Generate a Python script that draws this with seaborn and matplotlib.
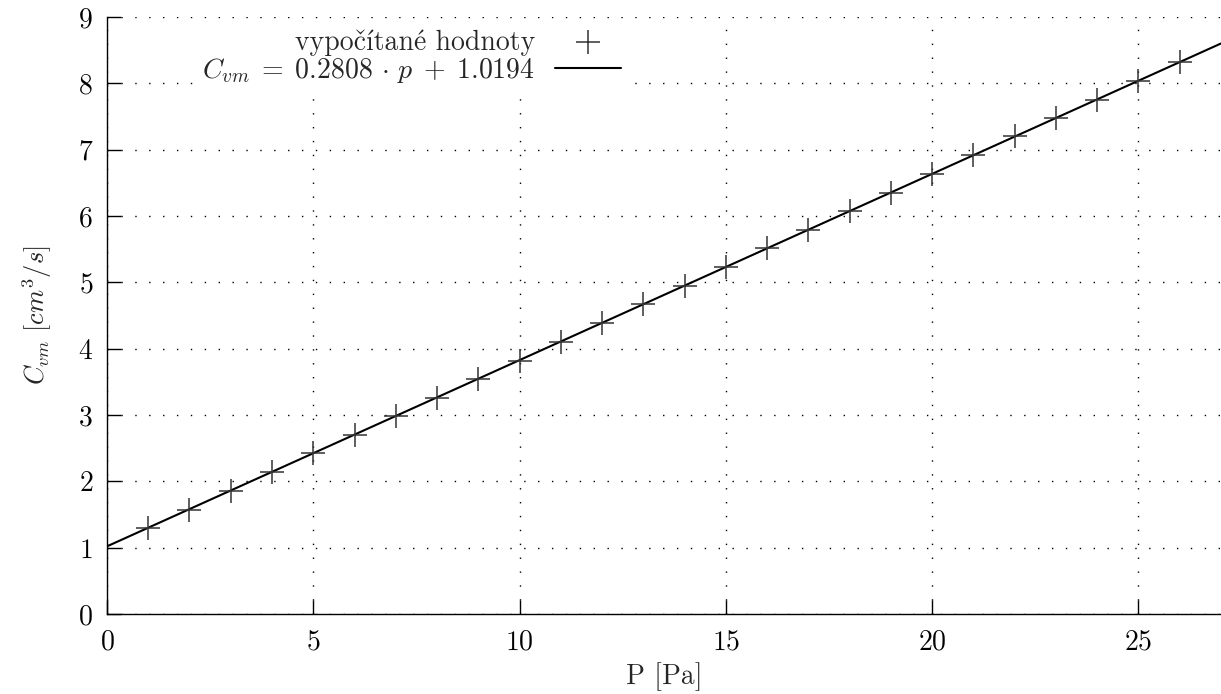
import numpy as np
import pandas as pd
import matplotlib
matplotlib.use('Agg')
import matplotlib.pyplot as plt
import seaborn as sns

# namerané hodnoty
p_vals = [1, 2, 3, 4, 5, 6, 7, 8, 9, 10, 11, 12, 13,
          14, 15, 16, 17, 18, 19, 20, 21, 22, 23, 24, 25, 26]
cvm_vals = [1.30, 1.57, 1.85, 2.14, 2.42, 2.70, 2.99, 3.26, 3.54, 3.82, 4.10, 4.38, 4.67,
            4.95, 5.23, 5.51, 5.79, 6.07, 6.35, 6.64, 6.92, 7.20, 7.47, 7.75, 8.04, 8.32]

# koeficienty regresie (z legendy)
slope = 0.2808
intercept = 1.0194
x_range = [0, 27]

x_ticks = [0, 5, 10, 15, 20, 25]
y_ticks = [0, 1, 2, 3, 4, 5, 6, 7, 8, 9]

sns.set_theme(style='ticks')
plt.rcParams['font.family'] = ['Latin Modern Roman', 'CMU Serif', 'cmr10', 'Liberation Serif']
plt.rcParams['mathtext.fontset'] = 'cm'
plt.rcParams['axes.unicode_minus'] = False
plt.rcParams['axes.formatter.use_mathtext'] = True

df = pd.DataFrame({'P': p_vals, 'Cvm': cvm_vals})
fit_x = np.linspace(x_range[0], x_range[1], 50)
fit_df = pd.DataFrame({'P': fit_x, 'Cvm': slope * fit_x + intercept})

fig = plt.figure(figsize=(12.21, 6.94), dpi=100)
ax = fig.add_axes([0.0876, 0.1153, 0.9124, 0.8602])

sns.scatterplot(data=df, x='P', y='Cvm', marker='+', s=300, color='#333333',
                linewidth=1.1, ax=ax, label='vypočítané hodnoty', zorder=3)
sns.lineplot(data=fit_df, x='P', y='Cvm', color='black', linewidth=1.5, ax=ax,
             label=r'$C_{vm}\;=\;0.2808\,\cdot\,p\;+\;1.0194$', zorder=2)

ax.set_xlim(x_range)
ax.set_ylim(0, 9)
ax.set_xticks(x_ticks)
ax.set_yticks(y_ticks)
ax.tick_params(direction='in', length=10, width=1, labelsize=20, colors='black')
ax.tick_params(axis='x', pad=11)
ax.tick_params(axis='y', pad=10)
ax.grid(True, linestyle=(0, (1, 9)), color='black', linewidth=1.0)
sns.despine(ax=ax, top=True, right=True)
for s in ['left', 'bottom']:
    ax.spines[s].set_color('black')
    ax.spines[s].set_linewidth(1)

ax.set_xlabel('P [Pa]', fontsize=20, labelpad=5)
ax.set_ylabel(r'$C_{vm}\ [cm^3/s]$', fontsize=19, labelpad=17)

leg = ax.legend(loc='upper right', bbox_to_anchor=(0.527, 0.99), bbox_transform=fig.transFigure,
                markerfirst=False, fontsize=20, frameon=True, framealpha=1, edgecolor='none',
                facecolor='white', fancybox=False, handlelength=2.4, labelspacing=0.0,
                borderpad=0.3, handletextpad=0.7)

fig.savefig('out.png', dpi=100)
